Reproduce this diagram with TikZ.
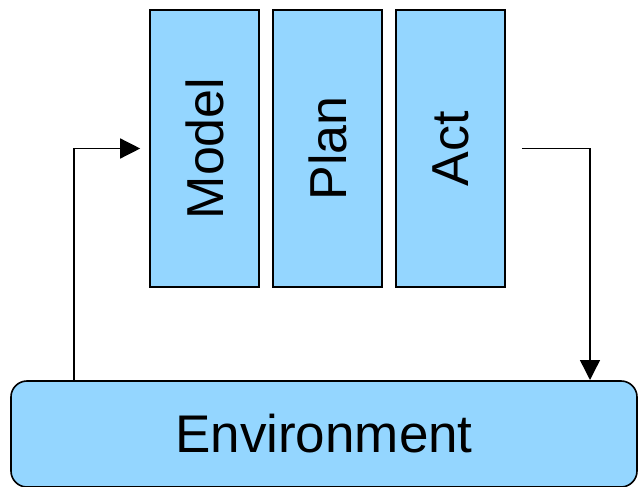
\documentclass[tikz,border=0pt]{standalone}
\usepackage{fontspec}
\setmainfont{Liberation Sans}
\usetikzlibrary{arrows.meta}
\definecolor{boxblue}{HTML}{94D6FF}

\begin{document}
\begin{tikzpicture}[x=1pt,y=-1pt]
	\useasboundingbox (0,0) rectangle (638,487);
	\tikzset{
		stage/.style={draw, line width=1.6pt, fill=boxblue, minimum width=109pt, minimum height=277pt, inner sep=0pt, font=\fontsize{52}{52}\selectfont},
		flow/.style={line width=1.4pt, -{Triangle[length=20pt,width=20pt]}}
	}

	\node[stage] (model) at (204.5,148.5) {\rotatebox{90}{Model}};
	\node[stage] (plan) at (327.5,148.5) {\rotatebox{90}{Plan}};
	\node[stage] (act) at (450.5,148.5) {\rotatebox{90}{Act}};

	\node[draw, line width=1.6pt, fill=boxblue, rounded corners=16pt, minimum width=626pt, minimum height=106pt, inner sep=0pt, font=\fontsize{53}{53}\selectfont] (env) at (324,434) {Environment};

	\coordinate (up) at (74,380);
	\coordinate (down) at (590,380);
	\coordinate (inl) at ([xshift=-9pt]model.west);
	\coordinate (outr) at ([xshift=16pt]act.east);

	\draw[flow] (up) |- (inl);
	\draw[flow] (outr) -| (down);
\end{tikzpicture}
\end{document}
